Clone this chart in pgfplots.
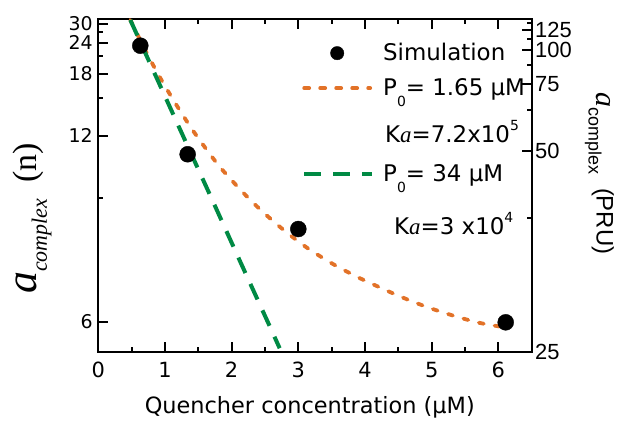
\documentclass[border=0pt]{standalone}
\usepackage{fontspec}
\setmainfont{DejaVu Sans}
\newfontfamily\arialf{Liberation Sans}
\newfontfamily\timesf{Liberation Serif}
\usepackage{pgfplots}
\pgfplotsset{compat=1.18}
\definecolor{qorange}{RGB}{226,114,40}
\definecolor{qgreen}{RGB}{0,138,68}
\newcommand{\legfont}{\fontsize{23}{27}\selectfont}
\newcommand{\sub}[1]{\raisebox{-0.45em}{\fontsize{14}{14}\selectfont #1}}
\newcommand{\sups}[1]{\raisebox{0.55em}{\fontsize{14}{14}\selectfont #1}}
\newcommand{\lt}[1]{\raisebox{-8.4bp}[0pt][0pt]{#1}}
\pgfplotsset{
  legline/.style 2 args={legend image code/.code={\path[draw=none,fill=none] (0bp,-#2) rectangle (68bp,#2); \draw[##1] (0bp,0bp) -- (#1,0bp);}},
  legdot/.style={legend image code/.code={\path[draw=none,fill=none] (0bp,-10bp) rectangle (68bp,10bp); \fill[black] (33bp,0bp) circle[radius=6.7bp];}},
  legempty/.style={legend image code/.code={\path[draw=none,fill=none] (0bp,-#1) rectangle (0bp,#1);}},
}
\begin{document}
\begin{tikzpicture}
\path[use as bounding box] (0,0) rectangle (621bp,421bp);
\begin{axis}[
  at={(98.3bp,69.3bp)}, anchor=south west,
  scale only axis, width=433.4bp, height=332.7bp,
  xmin=0, xmax=6.5, ymin=5.552, ymax=32.2,
  y coord trafo/.code={\pgfmathparse{-1000/#1}},
  y coord inv trafo/.code={\pgfmathparse{-1000/#1}},
  xtick={0,1,2,3,4,5,6}, minor xtick={0.5,1.5,2.5,3.5,4.5,5.5},
  ytick={6,12,18,24,30}, yticklabels={6,12,18,24,30},
  minor ytick={9,15,21,27},
  ytick pos=left, xtick pos=both,
  tick align=inside,
  major tick length=10bp, minor tick length=5bp,
  tick style={line width=2bp, black},
  axis line style={line width=2.2bp},
  xticklabel style={font=\fontsize{21}{21}\selectfont, yshift=-7bp},
  yticklabel style={font=\fontsize{19}{19}\selectfont, xshift=-2bp},
  /pgf/number format/assume math mode=true,
  xlabel={Quencher concentration (μM)},
  xlabel style={font=\fontsize{22.5}{22.5}\selectfont, at={(axis description cs:0.488,-0.166)}, anchor=center},
  ylabel={{\timesf\itshape\fontsize{44}{44}\selectfont a}\raisebox{-10bp}{\timesf\itshape\fontsize{22}{22}\selectfont complex}\hspace{16bp}{\timesf\fontsize{34}{34}\selectfont (n)}},
  ylabel style={at={(axis description cs:-0.152,0.40)}, anchor=center},
  legend style={draw=none, fill=none, at={(axis description cs:0.470,0.928)}, anchor=north west,
    inner sep=0pt, font=\legfont, row sep=0pt, column sep=9bp, nodes={inner sep=0pt}, cells={anchor=west}},
  legend cell align=left,
]
\addplot[only marks, mark=*, mark size=8bp, black, legdot]
  coordinates {(0.63,23.25) (1.34,10.91) (3.00,7.99) (6.11,5.99)};
\addlegendentry{\lt{Simulation}}
\addplot[qorange, line width=3.8bp, line cap=round, dash pattern=on 5bp off 11bp, smooth, legline={66bp}{25bp}]
  coordinates {(0.48,31.75) (0.73,21.51) (0.93,17.39) (1.18,14.29) (1.43,12.27) (1.73,10.66) (1.93,9.90) (2.30,8.87) (2.70,8.09) (3.12,7.50) (3.52,7.10) (3.87,6.83) (4.12,6.67) (4.52,6.44) (4.92,6.25) (5.32,6.10) (5.72,5.98) (6.10,5.91)};
\addlegendentry{\lt{P\sub{0}= 1.65 μM}}
\addlegendimage{legempty=22bp}
\addlegendentry{\lt{\hspace{2bp}K{\timesf\itshape a}=7.2x10\sups{5}}}
\addplot[qgreen, line width=4bp, dash pattern=on 17bp off 12bp, legline={68bp}{17bp}]
  coordinates {(0.480,31.75) (0.775,19.65) (1.225,12.43) (1.675,9.10) (2.124,7.17) (2.574,5.92) (2.72,5.60)};
\addlegendentry{\lt{P\sub{0}= 34 μM}}
\addlegendimage{legempty=36bp}
\addlegendentry{\lt{\hspace{11bp}K{\timesf\itshape a}=3 x10\sups{4}}}
\end{axis}
\begin{axis}[
  at={(98.3bp,69.3bp)}, anchor=south west,
  scale only axis, width=433.4bp, height=332.7bp,
  xmin=0, xmax=6.5, ymin=25, ymax=145.0,
  y coord trafo/.code={\pgfmathparse{-1000/#1}},
  y coord inv trafo/.code={\pgfmathparse{-1000/#1}},
  hide x axis, axis y line*=right,
  ytick={25,50,75,100,125}, yticklabels={25,50,75,100,125},
  minor ytick={37.5,62.5,87.5,112.5,137.5},
  tick align=inside,
  major tick length=10bp, minor tick length=5bp,
  tick style={line width=2bp, black},
  axis line style={line width=2.2bp},
  yticklabel style={font=\arialf\fontsize{22}{22}\selectfont},
  /pgf/number format/assume math mode=true,
  ylabel={{\timesf\itshape\fontsize{30}{30}\selectfont a}\raisebox{-8bp}{\arialf\fontsize{18}{18}\selectfont complex}\hspace{14bp}{\arialf\fontsize{24}{24}\selectfont (PRU)}},
  ylabel style={at={(axis description cs:1.156,0.536)}, anchor=center, rotate=180},
]
\end{axis}
\end{tikzpicture}
\end{document}
